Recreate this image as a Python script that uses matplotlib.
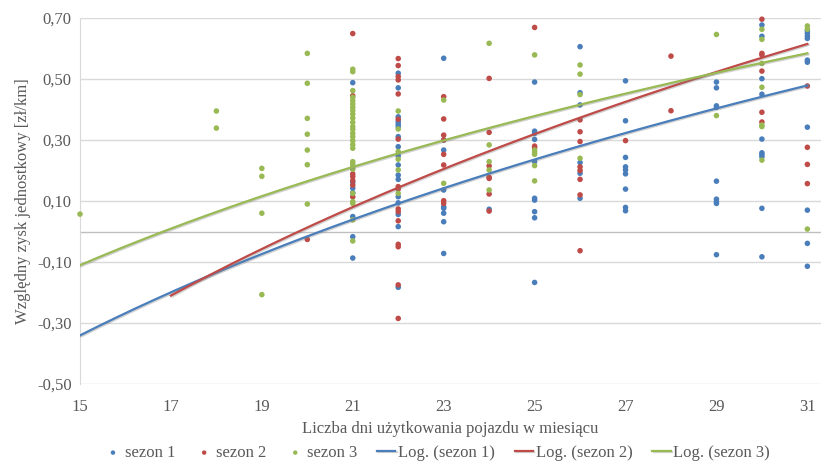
import numpy as np
import matplotlib
matplotlib.use("Agg")
import matplotlib.pyplot as plt
import matplotlib.patheffects as pe
from matplotlib.ticker import FuncFormatter

# ---------------- data ----------------
s1_x = [21]*7 + [22]*17 + [23]*9 + [24]*1 + [25]*10 + [26]*6 + [27]*9 + [29]*9 + [30]*10 + [31]*10
s1_y = [0.488, 0.142, 0.127, 0.049, -0.017, -0.087, 0.161,
        0.519, 0.471, 0.376, 0.360, 0.352, 0.344, 0.311, 0.278, 0.248, 0.218, 0.185, 0.171, 0.114, 0.094, 0.056, 0.016, -0.183,
        0.568, 0.300, 0.267, 0.136, 0.081, 0.076, 0.060, 0.032, -0.072,
        0.073,
        0.490, 0.329, 0.322, 0.302, 0.229, 0.109, 0.103, 0.065, 0.045, -0.167,
        0.606, 0.455, 0.415, 0.226, 0.191, 0.109,
        0.494, 0.363, 0.243, 0.212, 0.202, 0.189, 0.139, 0.079, 0.068,
        0.490, 0.471, 0.412, 0.407, 0.165, 0.106, 0.098, 0.092, -0.076,
        0.677, 0.501, 0.450, 0.303, 0.258, 0.252, 0.245, 0.076, -0.083, 0.640,
        0.658, 0.650, 0.641, 0.633, 0.562, 0.555, 0.342, 0.070, -0.039, -0.114]

s2_x = [20] + [21]*7 + [22]*16 + [23]*8 + [24]*7 + [25]*3 + [26]*8 + [27]*1 + [28]*2 + [30]*6 + [31]*4
s2_y = [-0.026,
        0.649, 0.445, 0.189, 0.180, 0.167, 0.114, 0.152,
        0.567, 0.544, 0.508, 0.497, 0.451, 0.368, 0.303, 0.147, 0.139, 0.074, 0.065, 0.035, -0.042, -0.050, -0.175, -0.285,
        0.442, 0.369, 0.316, 0.253, 0.218, 0.101, 0.092, 0.300,
        0.502, 0.325, 0.215, 0.178, 0.174, 0.123, 0.067,
        0.669, 0.280, 0.275,
        0.366, 0.327, 0.295, 0.212, 0.171, 0.120, -0.063, 0.200,
        0.298,
        0.575, 0.396,
        0.696, 0.584, 0.579, 0.526, 0.391, 0.359,
        0.477, 0.276, 0.220, 0.157]

s3_x = [15] + [18]*2 + [19]*4 + [20]*7 + [21]*27 + [22]*6 + [23]*2 + [24]*5 + [25]*6 + [26]*4 + [29]*2 + [30]*7 + [31]*3
s3_y = [0.057,
        0.395, 0.339,
        0.207, 0.181, 0.060, -0.207,
        0.584, 0.486, 0.371, 0.319, 0.267, 0.219, 0.090,
        0.532, 0.524, 0.462, 0.440, 0.429, 0.418, 0.407, 0.396, 0.385, 0.358, 0.344, 0.322, 0.311, 0.298,
        0.273, 0.229, 0.221, 0.212, 0.125, 0.098, 0.092, 0.038, -0.031, 0.372, 0.335, 0.285, 0.204,
        0.395, 0.336, 0.262, 0.237, 0.202, 0.125,
        0.431, 0.158,
        0.617, 0.284, 0.229, 0.202, 0.136,
        0.579, 0.267, 0.260, 0.253, 0.216, 0.166,
        0.546, 0.516, 0.449, 0.240,
        0.646, 0.380,
        0.663, 0.630, 0.551, 0.473, 0.349, 0.344, 0.234,
        0.674, 0.663, 0.008]

series_names = ["sezon 1", "sezon 2", "sezon 3"]
trend_names = ["Log. (sezon 1)", "Log. (sezon 2)", "Log. (sezon 3)"]
# logarithmic trend y = a*ln(x) + b, drawn from x_min to x_max
trend_a = [1.129, 1.373, 0.957]
trend_b = [-3.398, -4.100, -2.702]
trend_xmin = [15, 17, 15]
trend_xmax = [31, 31, 31]

x_ticks = [15, 17, 19, 21, 23, 25, 27, 29, 31]
y_ticks = [-0.5, -0.3, -0.1, 0.1, 0.3, 0.5, 0.7]
x_label = "Liczba dni użytkowania pojazdu w miesiącu"
y_label = "Względny zysk jednostkowy [zł/km]"

# ---------------- style ----------------
colors = ["#4a7ebb", "#be4b48", "#98b954"]
text_col = "#595959"
plt.rcParams['font.family'] = ['Liberation Serif', 'DejaVu Serif']

fig = plt.figure(figsize=(8.37, 4.63), dpi=100)
ax = fig.add_axes([80/837, 1-384/463, (821-80)/837, (384-18)/463])

xs = [s1_x, s2_x, s3_x]
ys = [s1_y, s2_y, s3_y]
handles = []
for i in range(3):
    h = ax.scatter(xs[i], ys[i], s=16, color=colors[i], edgecolors='none', zorder=3,
                   label=series_names[i], clip_on=False)
    handles.append(h)

line_handles = []
for i in range(3):
    xx = np.linspace(trend_xmin[i], trend_xmax[i], 200)
    yy = trend_a[i]*np.log(xx) + trend_b[i]
    ln, = ax.plot(xx, yy, color=colors[i], lw=1.6, zorder=4, label=trend_names[i],
                  path_effects=[pe.SimpleLineShadow(offset=(0.8, -0.8), shadow_color='gray', alpha=0.35),
                                pe.Normal()])
    line_handles.append(ln)

ax.set_xlim(15, 31.3)
ax.set_ylim(-0.5, 0.7)
ax.set_yticks(y_ticks)
ax.set_xticks(x_ticks)
ax.yaxis.set_major_formatter(FuncFormatter(lambda v, p: f"{v:.2f}".replace('.', ',')))
ax.grid(axis='y', color='#d9d9d9', lw=1.0, zorder=0)
ax.axhline(0, color='#bfbfbf', lw=1.0, zorder=1)
for s in ['top', 'right', 'bottom']:
    ax.spines[s].set_visible(False)
ax.spines['left'].set_color('#d9d9d9')
ax.tick_params(axis='both', length=0, labelsize=12, colors=text_col, pad=6)
ax.tick_params(axis='x', pad=11)
ax.set_xlabel(x_label, fontsize=12, color=text_col, labelpad=4)
ax.set_ylabel(y_label, fontsize=12, color=text_col, labelpad=4)

leg_handles = handles + line_handles
leg = fig.legend(handles=leg_handles, labels=series_names + trend_names, loc='lower center',
                 bbox_to_anchor=(0.522, -0.028), ncol=6, frameon=False, fontsize=12,
                 handlelength=1.1, handletextpad=0.15, columnspacing=1.2, markerscale=0.8)
for t in leg.get_texts():
    t.set_color(text_col)

fig.savefig("out.png", dpi=100)
